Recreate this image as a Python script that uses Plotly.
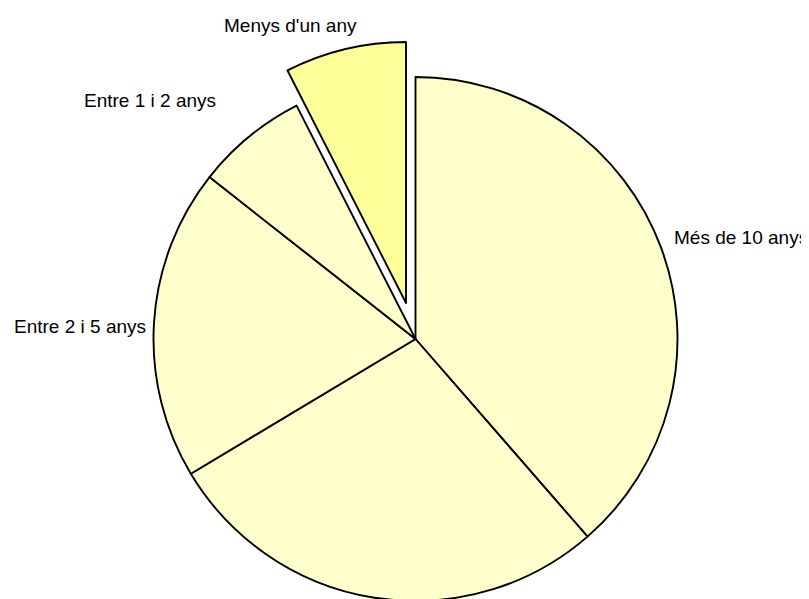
import plotly.graph_objects as go

# slices clockwise from 12 o'clock
categories = ["Més de 10 anys", "Entre 5 i 10 anys", "Entre 2 i 5 anys",
              "Entre 1 i 2 anys", "Menys d'un any"]
values = [38.6, 27.8, 19.2, 6.9, 7.5]
pulled = "Menys d'un any"

W, H = 809, 599
OFF = 8  # page body margin, boxes below are given in window pixels
BASE = "#FFFFCC"
HIGHLIGHT = "#FFFF99"
CLEAR = "rgba(0,0,0,0)"
LW = 1.9


def px_domain(x0, x1, y0, y1):
    # window pixel box -> paper domain
    x0, x1, y0, y1 = x0 - OFF, x1 - OFF, y0 - OFF, y1 - OFF
    return dict(x=[x0 / W, x1 / W], y=[1 - y1 / H, 1 - y0 / H])


main_colors = [CLEAR if c == pulled else BASE for c in categories]
main_widths = [0 if c == pulled else LW for c in categories]
out_colors = [HIGHLIGHT if c == pulled else CLEAR for c in categories]
out_widths = [LW if c == pulled else 0 for c in categories]

fig = go.Figure()

# the pie itself, the exploded wedge is left empty here
fig.add_trace(go.Pie(
    labels = categories,
    values = values,
    sort = False,
    direction = "clockwise",
    rotation = 0,
    textinfo = "none",
    hoverinfo = "label+percent",
    marker = dict(colors = main_colors, line = dict(color = "black", width = main_widths)),
    domain = px_domain(153.5, 677.5, 77, 601),
    showlegend = False,
))

# exploded wedge, same pie shifted out along its mid angle
fig.add_trace(go.Pie(
    labels = categories,
    values = values,
    sort = False,
    direction = "clockwise",
    rotation = 0,
    textinfo = "none",
    hoverinfo = "label+percent",
    marker = dict(colors = out_colors, line = dict(color = "black", width = out_widths)),
    domain = px_domain(145, 667, 42, 564),
    showlegend = False,
))

# label positions in window pixels (left edge, middle)
label_pos = {
    "Més de 10 anys": (672, 237),
    "Entre 2 i 5 anys": (12, 326),
    "Entre 1 i 2 anys": (82, 100),
    "Menys d'un any": (222, 25),
}
for name, (lx, ly) in label_pos.items():
    fig.add_annotation(
        text = name,
        showarrow = False,
        xref = "paper",
        yref = "paper",
        x = (lx - OFF) / W,
        y = 1 - (ly - OFF) / H,
        xanchor = "left",
        yanchor = "middle",
        font = dict(size = 19, color = "black", family = "Liberation Sans, Arial, sans-serif"),
    )

fig.update_layout(
    width = W,
    height = H,
    margin = dict(l = 0, r = 0, t = 0, b = 0),
    paper_bgcolor = "white",
    plot_bgcolor = "white",
)

fig.write_html("out.html")
